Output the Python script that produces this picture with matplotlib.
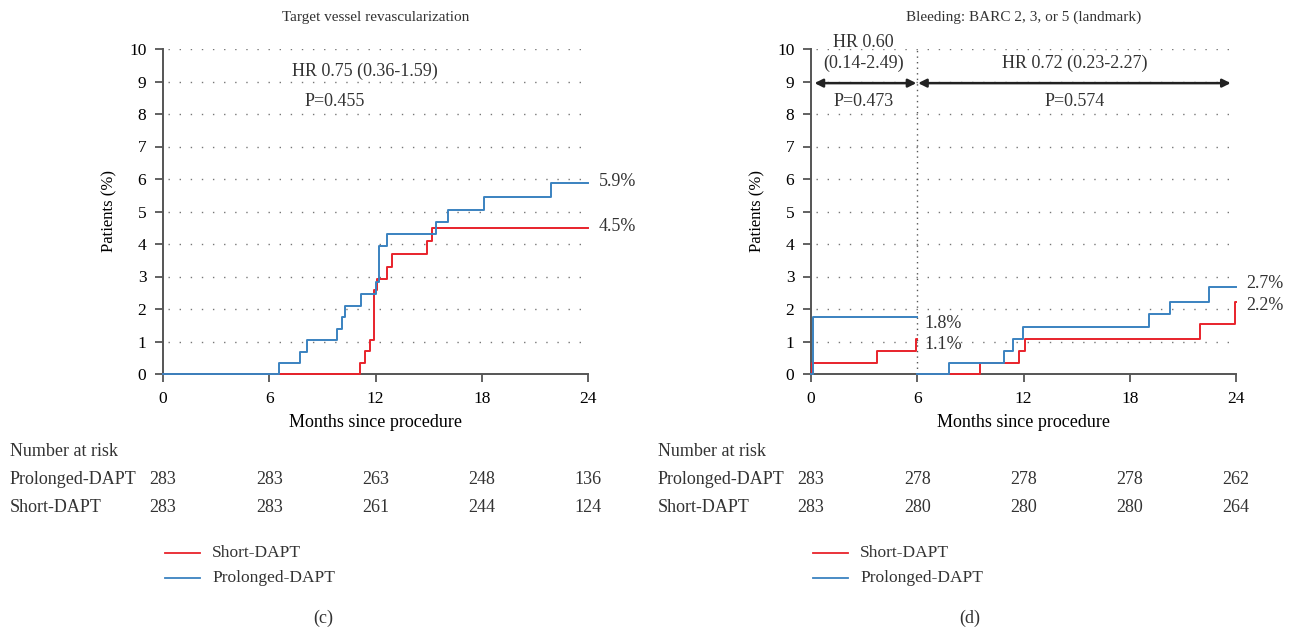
import numpy as np
import matplotlib
matplotlib.use("Agg")
import matplotlib.pyplot as plt

plt.rcParams['font.family'] = ['Liberation Serif', 'DejaVu Serif']
plt.rcParams['font.size'] = 11.5
plt.rcParams['text.color'] = '#333333'

RED = '#e8232b'
BLUE = '#3a82c0'
GREY = '#555555'

# panel (c): target vessel revascularization
c_blue_t = [0, 6.55, 7.74, 8.12, 9.81, 10.13, 10.3, 11.17, 12.0, 12.22, 12.64, 15.4, 16.08, 18.14, 21.92, 24]
c_blue_y = [0, 0.35, 0.69, 1.04, 1.38, 1.74, 2.09, 2.46, 2.82, 3.94, 4.31, 4.68, 5.06, 5.45, 5.88, 5.88]
c_red_t = [0, 11.1, 11.38, 11.7, 11.89, 12.07, 12.64, 12.92, 14.93, 15.18, 24]
c_red_y = [0, 0.35, 0.71, 1.06, 2.6, 2.92, 3.3, 3.68, 4.08, 4.48, 4.48]

# panel (d): bleeding, landmark at 6 months
d_blue1_t = [0, 0.1, 6]
d_blue1_y = [0, 1.76, 1.76]
d_red1_t = [0, 0.05, 3.75, 5.92, 6]
d_red1_y = [0, 0.35, 0.7, 1.07, 1.07]
d_blue2_t = [6, 7.77, 10.9, 11.4, 11.96, 19.1, 20.3, 22.5, 24]
d_blue2_y = [0, 0.35, 0.71, 1.08, 1.45, 1.84, 2.22, 2.67, 2.67]
d_red2_t = [6, 9.57, 11.75, 12.09, 21.97, 23.93, 24]
d_red2_y = [0, 0.35, 0.72, 1.09, 1.53, 2.22, 2.22]

months = [0, 6, 12, 18, 24]
c_risk_prolonged = [283, 283, 263, 248, 136]
c_risk_short = [283, 283, 261, 244, 124]
d_risk_prolonged = [283, 278, 278, 278, 262]
d_risk_short = [283, 280, 280, 280, 264]

W, H = 1290, 635
fig = plt.figure(figsize=(W / 100, H / 100), dpi=100)
FS = 13.0


def px_axes(x0, x1, ytop, ybot):
    return fig.add_axes([x0 / W, 1 - ybot / H, (x1 - x0) / W, (ybot - ytop) / H])


def style(ax, title):
    ax.set_xlim(0, 24)
    ax.set_ylim(0, 10)
    for s in ['top', 'right']:
        ax.spines[s].set_visible(False)
    for s in ['left', 'bottom']:
        ax.spines[s].set_color(GREY)
        ax.spines[s].set_linewidth(1.4)
    ax.set_xticks(months)
    ax.set_yticks(range(0, 11))
    ax.tick_params(direction='out', length=6, width=1.3, color=GREY, labelsize=12.5, pad=6)
    for v in range(1, 11):
        ax.plot([0.3, 24], [v, v], color='#777777', lw=1.0, ls=(0, (1, 7)), zorder=1)
    ax.set_title(title, fontsize=11, pad=20)
    ax.set_ylabel('Patients (%)', fontsize=12, labelpad=8)
    ax.set_xlabel('Months since procedure', fontsize=FS, labelpad=5)


def risk_table(ax, xlab, prolonged, short):
    trans = ax.get_xaxis_transform()
    fig.text(xlab / W, 1 - 452 / H, 'Number at risk', fontsize=FS, va='center')
    fig.text(xlab / W, 1 - 479 / H, 'Prolonged-DAPT', fontsize=FS, va='center')
    fig.text(xlab / W, 1 - 507 / H, 'Short-DAPT', fontsize=FS, va='center')
    y1 = (374 - 479) / 325.0
    y2 = (374 - 507) / 325.0
    for m, a, b in zip(months, prolonged, short):
        ax.text(m, y1, str(a), transform=trans, ha='center', va='center', fontsize=FS, clip_on=False)
        ax.text(m, y2, str(b), transform=trans, ha='center', va='center', fontsize=FS, clip_on=False)


def legend(x0):
    fig.add_artist(plt.Line2D([x0 / W, (x0 + 35) / W], [1 - 553 / H] * 2, color=RED, lw=1.3))
    fig.add_artist(plt.Line2D([x0 / W, (x0 + 35) / W], [1 - 578 / H] * 2, color=BLUE, lw=1.3))
    fig.text((x0 + 47) / W, 1 - 553 / H, 'Short-DAPT', fontsize=12.5, va='center')
    fig.text((x0 + 47) / W, 1 - 578 / H, 'Prolonged-DAPT', fontsize=12.5, va='center')


# ---- panel (c)
ax1 = px_axes(163, 588, 49, 374)
style(ax1, 'Target vessel revascularization')
ax1.step(c_red_t, c_red_y, where='post', color=RED, lw=1.4, zorder=3, clip_on=False)
ax1.step(c_blue_t, c_blue_y, where='post', color=BLUE, lw=1.4, zorder=4, clip_on=False)
ax1.text(24.6, c_blue_y[-1] + 0.05, '5.9%', fontsize=FS, va='center')
ax1.text(24.6, c_red_y[-1] + 0.05, '4.5%', fontsize=FS, va='center')
ax1.text(11.4, 9.3, 'HR 0.75 (0.36-1.59)', fontsize=FS, ha='center', va='center')
ax1.text(9.7, 8.4, 'P=0.455', fontsize=FS, ha='center', va='center')
risk_table(ax1, 10, c_risk_prolonged, c_risk_short)
legend(165)
fig.text(323 / W, 1 - 618 / H, '(c)', fontsize=FS, ha='center', va='center')

# ---- panel (d)
ax2 = px_axes(811, 1236, 49, 374)
style(ax2, 'Bleeding: BARC 2, 3, or 5 (landmark)')
ax2.plot([6, 6], [0, 10], color='#555555', lw=1.0, ls=(0, (1, 3)), zorder=2)
ax2.step(d_red1_t, d_red1_y, where='post', color=RED, lw=1.4, zorder=3, clip_on=False)
ax2.step(d_red2_t, d_red2_y, where='post', color=RED, lw=1.4, zorder=3, clip_on=False)
ax2.step(d_blue1_t, d_blue1_y, where='post', color=BLUE, lw=1.4, zorder=4, clip_on=False)
ax2.step(d_blue2_t, d_blue2_y, where='post', color=BLUE, lw=1.4, zorder=4, clip_on=False)
ax2.text(24.6, 2.77, '2.7%', fontsize=FS, va='center')
ax2.text(24.6, 2.12, '2.2%', fontsize=FS, va='center')
ax2.text(6.4, 1.55, '1.8%', fontsize=FS, va='center')
ax2.text(6.4, 0.92, '1.1%', fontsize=FS, va='center')
arrow = dict(arrowstyle='<|-|>', color='#222222', lw=1.8, mutation_scale=12, shrinkA=0, shrinkB=0)
ax2.annotate('', xy=(0.2, 8.95), xytext=(5.95, 8.95), arrowprops=arrow)
ax2.annotate('', xy=(6.05, 8.95), xytext=(23.7, 8.95), arrowprops=arrow)
ax2.text(2.95, 10.2, 'HR 0.60', fontsize=FS, ha='center', va='center', clip_on=False)
ax2.text(2.95, 9.55, '(0.14-2.49)', fontsize=FS, ha='center', va='center')
ax2.text(2.95, 8.37, 'P=0.473', fontsize=FS, ha='center', va='center')
ax2.text(14.9, 9.55, 'HR 0.72 (0.23-2.27)', fontsize=FS, ha='center', va='center')
ax2.text(14.9, 8.37, 'P=0.574', fontsize=FS, ha='center', va='center')
risk_table(ax2, 658, d_risk_prolonged, d_risk_short)
legend(813)
fig.text(970 / W, 1 - 618 / H, '(d)', fontsize=FS, ha='center', va='center')

fig.savefig('out.png', dpi=100, facecolor='white')
